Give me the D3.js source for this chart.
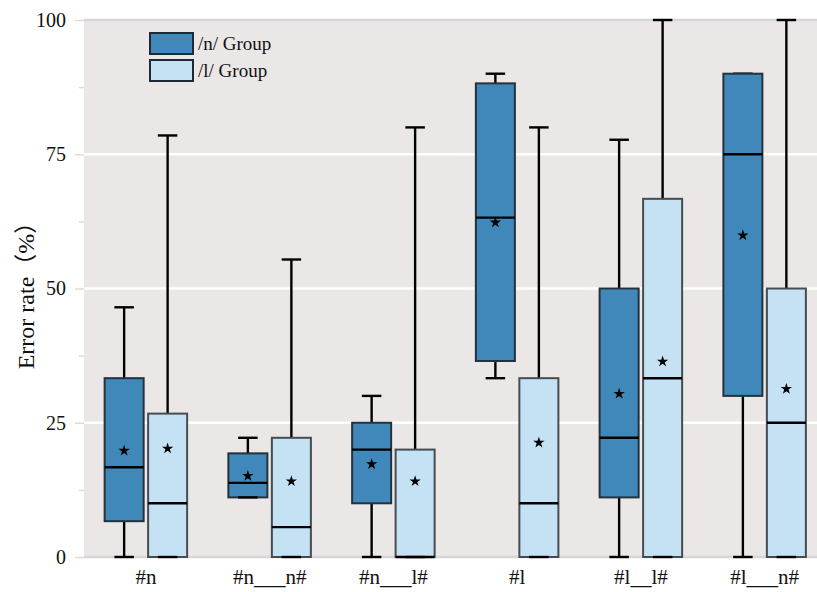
<!DOCTYPE html>
<html><head><meta charset="utf-8">
<script src="https://cdn.jsdelivr.net/npm/d3@7/dist/d3.min.js"></script>
<style>body{margin:0;background:#fff;} svg{display:block;font-family:"Liberation Serif","Times New Roman",serif;}</style>
</head><body>
<svg id="c" width="817" height="592"></svg>
<script>
const categories = ["#n","#n___n#","#n___l#","#l","#l__l#","#l___n#"];
const groups = ["/n/ Group","/l/ Group"];
// [min, q1, median, q3, max, mean]
const nGroup = [
  [0, 6.67, 16.7, 33.3, 46.5, 19.8],
  [11.1, 11.1, 13.8, 19.3, 22.2, 15.1],
  [0, 10, 20, 25, 30, 17.3],
  [33.3, 36.5, 63.2, 88.2, 90, 62.3],
  [0, 11.1, 22.2, 50, 77.7, 30.4],
  [0, 30, 75, 90, 90, 59.9]
];
const lGroup = [
  [0, 0, 10, 26.7, 78.5, 20.2],
  [0, 0, 5.56, 22.2, 55.4, 14.1],
  [0, 0, 0, 20, 80, 14.1],
  [0, 0, 10, 33.3, 80, 21.3],
  [0, 0, 33.3, 66.7, 100, 36.4],
  [0, 0, 25, 50, 100, 31.3]
];
const yTicks = [0,25,50,75,100];
const yMinor = [12.5,37.5,62.5,87.5];

const svg = d3.select("#c");
const L = 84, R = 817, T = 20, B = 557;
const x = d3.scaleBand().domain(categories).range([L, 826.5]);
const sub = d3.scaleBand().domain(groups).range([-41.25, 41.25]).paddingInner(0.103);
const y = d3.scaleLinear().domain([0,100]).range([B, T]);
const fills = {"/n/ Group":"#3f88b9","/l/ Group":"#c5e1f4"};
const strokes = {"/n/ Group":"#24323d","/l/ Group":"#464c52"};

svg.append("rect").attr("x",L).attr("y",T).attr("width",R-L).attr("height",B-T).attr("fill","#ebe7e7");

// gridlines
svg.append("g").selectAll("line").data(yTicks).join("line")
  .attr("x1",L).attr("x2",R).attr("y1",d=>y(d)).attr("y2",d=>y(d))
  .attr("stroke",d=>(d===0||d===100)?"#d6d6d6":"#ffffff").attr("stroke-width",2.5);

// y axis
const yAxis = d3.axisLeft(y).tickValues(yTicks).tickSize(9).tickPadding(9).tickFormat(d3.format("d"));
const ga = svg.append("g").attr("transform",`translate(${L},0)`).call(yAxis);
ga.select(".domain").remove();
ga.selectAll(".tick line").attr("stroke","#dcdcdc").attr("stroke-width",1.5);
ga.selectAll(".tick text").attr("font-size",20).attr("fill","#111").attr("font-family","Liberation Serif, serif");
const gm = svg.append("g").attr("transform",`translate(${L},0)`)
  .call(d3.axisLeft(y).tickValues(yMinor).tickSize(5).tickFormat(""));
gm.select(".domain").remove();
gm.selectAll(".tick line").attr("stroke","#dcdcdc").attr("stroke-width",1.5);

// x labels
const gx = svg.append("g").attr("transform",`translate(0,${B})`)
  .call(d3.axisBottom(x).tickSize(0).tickPadding(12));
gx.select(".domain").remove();
gx.selectAll(".tick text").attr("font-size",21).attr("fill","#111").attr("font-family","Liberation Serif, serif");

// y title
const yt = svg.append("text").attr("transform",`translate(34,${290}) rotate(-90)`).attr("text-anchor","middle")
  .attr("font-size",24).attr("fill","#111");
yt.append("tspan").text("Error rate");
yt.append("tspan").attr("font-family","Noto Sans CJK SC").attr("font-size",23).text("（");
yt.append("tspan").text("%");
yt.append("tspan").attr("font-family","Noto Sans CJK SC").attr("font-size",23).text("）");

const star = d3.symbol().type(d3.symbolStar).size(40);
const bw = sub.bandwidth();
const capW = bw*0.5;

function drawGroup(data, g) {
  const gg = svg.append("g");
  data.forEach((d,i)=>{
    const cx = x(categories[i]) + x.bandwidth()/2 + sub(g) + bw/2;
    const [mn,q1,md,q3,mx,mean] = d;
    gg.append("line").attr("x1",cx).attr("x2",cx).attr("y1",y(q3)).attr("y2",y(mx)).attr("stroke","#000").attr("stroke-width",2.4);
    gg.append("line").attr("x1",cx).attr("x2",cx).attr("y1",y(q1)).attr("y2",y(mn)).attr("stroke","#000").attr("stroke-width",2.4);
    gg.append("line").attr("x1",cx-capW/2).attr("x2",cx+capW/2).attr("y1",y(mx)).attr("y2",y(mx)).attr("stroke","#000").attr("stroke-width",2.4);
    gg.append("rect").attr("x",cx-bw/2).attr("y",y(q3)).attr("width",bw).attr("height",y(q1)-y(q3))
      .attr("fill",fills[g]).attr("stroke",strokes[g]).attr("stroke-width",2);
    gg.append("line").attr("x1",cx-capW/2).attr("x2",cx+capW/2).attr("y1",y(mn)).attr("y2",y(mn)).attr("stroke","#000").attr("stroke-width",2.4);
    gg.append("line").attr("x1",cx-bw/2).attr("x2",cx+bw/2).attr("y1",y(md)).attr("y2",y(md)).attr("stroke","#000").attr("stroke-width",2.4);
    gg.append("path").attr("d",star).attr("transform",`translate(${cx},${y(mean)})`).attr("fill","#000");
  });
}
drawGroup(nGroup, groups[0]);
drawGroup(lGroup, groups[1]);

// legend
const lg = svg.append("g").attr("transform","translate(150,33)");
groups.forEach((g,i)=>{
  lg.append("rect").attr("x",0).attr("y",i*27).attr("width",43).attr("height",21)
    .attr("fill",fills[g]).attr("stroke","#1e2a33").attr("stroke-width",2);
  lg.append("text").attr("x",48).attr("y",i*27+17).attr("font-size",19).attr("fill","#111").text(g);
});
</script>
</body></html>
